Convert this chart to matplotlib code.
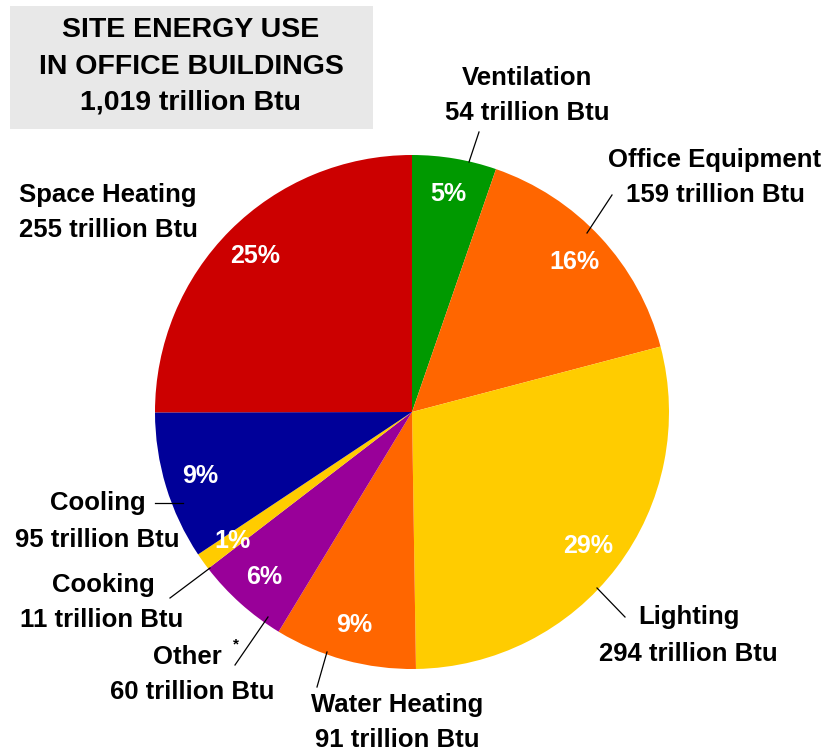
import matplotlib
matplotlib.use("Agg")
import matplotlib.pyplot as plt
from matplotlib.patches import Rectangle

# ---- data ----
categories = ["Ventilation", "Office Equipment", "Lighting", "Water Heating",
              "Other", "Cooking", "Cooling", "Space Heating"]
values = [54, 159, 294, 91, 60, 11, 95, 255]
colors = ["#009900", "#FF6600", "#FFCC00", "#FF6600",
          "#990099", "#FFCC00", "#000099", "#CC0000"]
title_lines = ["SITE ENERGY USE", "IN OFFICE BUILDINGS", "1,019 trillion Btu"]
unit = "trillion Btu"

W, H = 828, 752
plt.rcParams['font.family'] = ['Liberation Sans', 'DejaVu Sans']
fig = plt.figure(figsize=(W / 100, H / 100), dpi=100)
ax = fig.add_axes([0, 0, 1, 1])


def P(x, y):
    """pixel (top-left origin) -> data coords"""
    return x, H - y


cx, cy = P(412, 412)
R = 257
wedges, texts, autotexts = ax.pie(values, colors=colors, startangle=90, counterclock=False,
                                  center=(cx, cy), radius=R, autopct='%.0f%%', pctdistance=0.86,
                                  wedgeprops=dict(linewidth=0), frame=True,
                                  textprops=dict(color='white', fontsize=18, fontweight='bold'))
ax.set_xlim(0, W)
ax.set_ylim(0, H)
ax.set_aspect('equal')
ax.axis('off')

# title box
bx0, by1 = P(10, 129)
ax.add_patch(Rectangle((bx0, by1), 363, 123, facecolor='#E8E8E8', edgecolor='none', zorder=0))
for line, ty in zip(title_lines, [30, 67, 103]):
    ax.text(*P(191, ty), line, ha='center', va='center', fontsize=20.5,
            fontweight='bold', color='black')

# label layout: (line1 center, line2 center, leader start, leader end)
layout = {
    "Ventilation": ((527, 78), (527, 113), (479, 132), (469, 162)),
    "Office Equipment": ((715, 160), (715, 195), (612, 195), (587, 233)),
    "Lighting": ((689, 617), (688, 654), (625, 617), (597, 588)),
    "Water Heating": ((397, 705), (397, 740), (317, 687), (327, 652)),
    "Other": ((187, 657), (192, 692), (235, 665), (268, 617)),
    "Cooking": ((103, 585), (102, 620), (170, 598), (210, 568)),
    "Cooling": ((98, 503), (97, 540), (155, 503), (183, 503)),
    "Space Heating": ((108, 195), (108, 230), None, None),
}
for cat, val in zip(categories, values):
    l1, l2, a, b = layout[cat]
    ax.text(*P(*l1), cat, ha='center', va='center', fontsize=18.5, fontweight='bold')
    ax.text(*P(*l2), f"{val} {unit}", ha='center', va='center', fontsize=18.5, fontweight='bold')
    if a is not None:
        (x1, y1), (x2, y2) = P(*a), P(*b)
        ax.plot([x1, x2], [y1, y2], color='black', lw=0.9, zorder=5)
    if cat == "Other":
        ax.text(*P(236, 644), "*", ha='center', va='center', fontsize=11, fontweight='bold')

fig.savefig("out.png", dpi=100)
